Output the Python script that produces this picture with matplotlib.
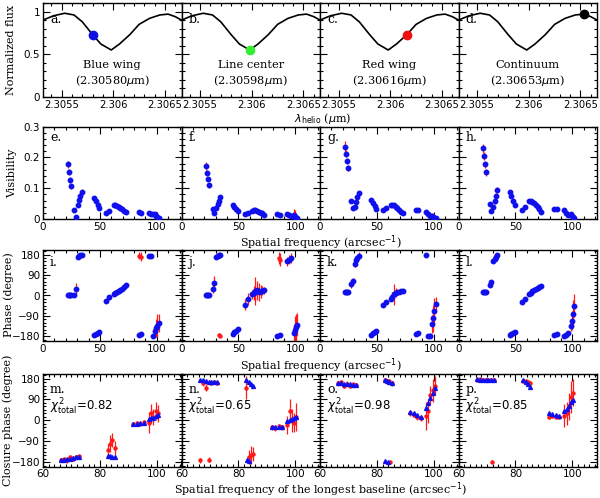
import numpy as np
import matplotlib
matplotlib.use('Agg')
import matplotlib.pyplot as plt
from matplotlib.ticker import MultipleLocator

# ---- spectrum (row 1) ----
wave = [2.30532, 2.30542, 2.30553, 2.30562, 2.30570, 2.30580, 2.30588, 2.30598,
        2.30606, 2.30616, 2.30625, 2.30635, 2.30645, 2.30653, 2.30660, 2.30666]
flux = [0.90, 0.95, 0.98, 0.96, 0.88, 0.73, 0.62, 0.55,
        0.62, 0.73, 0.85, 0.92, 0.96, 0.97, 0.94, 0.90]
sel_wave = [2.30580, 2.30598, 2.30616, 2.30653]
sel_flux = [0.73, 0.55, 0.73, 0.97]
sel_color = ['#1010e0', '#33ee33', '#ee1111', 'black']
sel_name = ['Blue wing', 'Line center', 'Red wing', 'Continuum']
sel_label = ['(2.30580$\\mu$m)', '(2.30598$\\mu$m)', '(2.30616$\\mu$m)', '(2.30653$\\mu$m)']

# ---- spatial frequencies shared by visibility / phase panels ----
sf = [21.8, 22.7, 23.6, 24.5, 27.5, 28.7, 30.5, 31.7, 32.9, 34.0,
      45.0, 46.5, 48.0, 49.5, 55.5, 58.0, 62.0, 63.5, 65.0, 66.5,
      68.0, 69.5, 71.0, 72.5, 84.0, 86.5, 93.0, 94.7, 96.3,
      98.5, 99.5, 100.5, 101.5]

vis_e = [0.178, 0.152, 0.128, 0.106, 0.028, 0.008, 0.045, 0.062, 0.076, 0.088,
         0.068, 0.057, 0.046, 0.036, 0.018, 0.027, 0.045, 0.044, 0.042, 0.040,
         0.037, 0.032, 0.027, 0.022, 0.022, 0.021, 0.020, 0.017, 0.015,
         0.016, 0.010, 0.006, 0.002]
vis_e_err = [0.012, 0.010, 0.010, 0.008, 0.006, 0.006, 0.006, 0.008, 0.010, 0.010,
             0.005, 0.005, 0.005, 0.005, 0.004, 0.004, 0.005, 0.005, 0.005, 0.005,
             0.004, 0.004, 0.004, 0.004, 0.003, 0.003, 0.003, 0.003, 0.003,
             0.006, 0.010, 0.010, 0.006]
vis_f = [0.172, 0.150, 0.130, 0.110, 0.033, 0.020, 0.035, 0.048, 0.060, 0.070,
         0.046, 0.040, 0.033, 0.027, 0.015, 0.018, 0.025, 0.028, 0.028, 0.026,
         0.024, 0.021, 0.018, 0.014, 0.015, 0.014, 0.015, 0.012, 0.010,
         0.012, 0.008, 0.004, 0.002]
vis_f_err = [0.012, 0.010, 0.008, 0.008, 0.005, 0.005, 0.006, 0.006, 0.008, 0.008,
             0.005, 0.005, 0.005, 0.005, 0.004, 0.004, 0.004, 0.004, 0.004, 0.004,
             0.004, 0.004, 0.004, 0.004, 0.003, 0.003, 0.004, 0.004, 0.004,
             0.020, 0.022, 0.015, 0.010]
vis_g = [0.235, 0.212, 0.188, 0.165, 0.060, 0.035, 0.040, 0.055, 0.070, 0.083,
         0.063, 0.052, 0.042, 0.032, 0.028, 0.035, 0.047, 0.046, 0.044, 0.040,
         0.036, 0.030, 0.024, 0.018, 0.030, 0.030, 0.024, 0.016, 0.010,
         0.010, 0.005, 0.003, 0.002]
vis_g_err = [0.020, 0.012, 0.010, 0.010, 0.006, 0.006, 0.006, 0.008, 0.008, 0.008,
             0.005, 0.005, 0.005, 0.005, 0.004, 0.004, 0.005, 0.005, 0.005, 0.005,
             0.004, 0.004, 0.004, 0.004, 0.004, 0.004, 0.004, 0.004, 0.004,
             0.008, 0.012, 0.012, 0.008]
vis_h = [0.230, 0.205, 0.178, 0.152, 0.050, 0.025, 0.040, 0.058, 0.076, 0.093,
         0.088, 0.074, 0.060, 0.047, 0.030, 0.040, 0.058, 0.058, 0.056, 0.052,
         0.046, 0.038, 0.031, 0.024, 0.033, 0.033, 0.028, 0.020, 0.014,
         0.015, 0.010, 0.006, 0.004]
vis_h_err = [0.015, 0.012, 0.012, 0.012, 0.006, 0.006, 0.006, 0.008, 0.010, 0.010,
             0.005, 0.005, 0.005, 0.005, 0.004, 0.004, 0.005, 0.005, 0.005, 0.005,
             0.004, 0.004, 0.004, 0.004, 0.003, 0.003, 0.003, 0.003, 0.003,
             0.006, 0.006, 0.006, 0.006]

ph_i = [3, 2, 1, 0, 0, 30, 168, 172, 176, 180,
        -175, -170, -166, -162, -25, -8, 8, 12, 16, 20,
        25, 30, 38, 45, -172, -168, 172, 175, -176,
        -155, -143, -132, -122]
ph_i_err = [5, 5, 5, 5, 5, 25, 8, 8, 8, 8, 6, 6, 6, 6, 10, 10, 8, 10, 12, 10,
            10, 10, 10, 8, 8, 8, 8, 8, 8, 20, 40, 50, 40]
ph_j = [3, 2, 1, 0, 30, 55, 170, 175, 178, 180,
        -168, -162, -155, -148, -40, -15, 5, 10, 20, 22,
        15, 18, 20, 22, -176, -174, 150, 158, 165,
        -165, -150, -140, -128]
ph_j_err = [5, 5, 5, 5, 20, 30, 8, 8, 8, 8, 8, 8, 8, 8, 25, 25, 20, 30, 60, 40,
            40, 30, 20, 15, 8, 8, 20, 20, 20, 40, 60, 60, 50]
ph_k = [14, 14, 14, 15, 50, 62, 140, 155, 165, 175,
        -172, -166, -160, -155, -42, -30, -15, -5, 5, 12,
        14, 16, 18, 20, -168, -166, 178, -178, -176,
        -125, -100, -70, -38]
ph_k_err = [5, 5, 5, 5, 15, 15, 15, 15, 15, 15, 6, 6, 6, 6, 8, 8, 10, 20, 45, 20,
            10, 10, 10, 8, 8, 8, 10, 10, 10, 40, 60, 60, 30]
ph_l = [14, 14, 15, 16, 45, 60, 150, 160, 170, 178,
        -172, -168, -164, -160, -30, -15, 5, 12, 18, 24,
        28, 32, 36, 40, -172, -170, -176, -172, -165,
        -135, -110, -80, -45]
ph_l_err = [4, 4, 4, 4, 8, 8, 6, 6, 6, 6, 5, 5, 5, 5, 6, 6, 6, 8, 12, 8,
            6, 6, 6, 6, 6, 6, 6, 6, 8, 20, 40, 60, 50]

# red points that wrap to the other side of +-180
ph_i_wrap_x, ph_i_wrap_y, ph_i_wrap_err = [84.0, 86.5], [175, 170], [15, 20]
ph_j_wrap_x, ph_j_wrap_y, ph_j_wrap_err = [32.9, 34.0, 85.5, 86.5], [-172, -176, 165, 158], [8, 8, 25, 30]

# ---- closure phases ----
cpx = [66.5, 67.5, 68.5, 69.5, 70.5, 71.5, 72.5, 82.8, 83.6, 84.4, 85.2,
       91.8, 93.0, 94.2, 95.4, 97.2, 98.0, 98.8, 99.6, 100.4]
cp_m_mod = [-172, -170, -168, -166, -163, -160, -157, -152, -154, -156, -158,
            -15, -14, -12, -10, 5, 8, 11, 18, 24]
cp_m_obs = [-170, -168, -172, -160, -165, -158, -155, -130, -100, -85, -120,
            -16, -12, -14, -8, -10, 30, 15, 40, 30]
cp_m_err = [8, 8, 10, 10, 10, 8, 6, 30, 35, 30, 30, 8, 8, 8, 8, 45, 40, 35, 40, 35]
cp_n_mod = [176, 172, 168, 166, 165, 165, 165, 174, 165, 155, 147,
            -28, -30, -30, -30, -2, 2, 6, 12, 16]
cp_n_obs = [-172, 160, 140, -170, 162, 165, 160, 140, -160, -150, -145,
            -30, -35, -25, -30, -20, 40, 0, -10, 15]
cp_n_err = [10, 10, 15, 10, 10, 8, 8, 50, 30, 40, 30, 12, 10, 10, 10, 40, 50, 50, 40, 60]
cp_o_mod = [163, 161, 159, 157, 155, 154, 153, 174, 170, 166, 163,
            37, 30, 22, 16, 55, 75, 95, 120, 138]
cp_o_obs = [160, 165, 150, 158, 150, 155, 152, 172, 168, 170, 160,
            30, 25, 15, 10, 20, 40, 110, 130, 150]
cp_o_err = [10, 8, 12, 10, 8, 8, 8, 10, 10, 10, 10, 12, 12, 12, 12, 60, 50, 40, 50, 40]
cp_p_mod = [177, 176, 176, 175, 175, 174, 174, 174, 165, 155, 142,
            33, 28, 24, 19, 40, 50, 62, 80, 88]
cp_p_obs = [176, 177, 175, 176, 175, 176, 175, 170, 168, 165, 160,
            15, 18, 16, 14, 20, 30, 60, 100, 120]
cp_p_err = [5, 5, 5, 5, 5, 5, 5, 10, 10, 10, 10, 10, 10, 10, 10, 50, 50, 60, 70, 60]
cp_n_wrap_x, cp_n_wrap_y = [83.0, 83.6], [-171, -176]
cp_o_wrap_x, cp_o_wrap_y = [83.0, 83.8], [-175, -178]
cp_obs_wrap_x = {'o.': [84.6], 'p.': [71.9]}
cp_obs_wrap_y = {'o.': [-180], 'p.': [-178]}
chi2 = ['0.82', '0.65', '0.98', '0.85']

# ---- layout (pixels) ----
W, H = 600, 498
col_left = [43, 181.5, 320, 458.5]
col_w = 138.5
rows = [(3, 97), (126.7, 219), (250, 341), (374, 466.7)]
serif = 'DejaVu Serif'
RED, BLUE = '#ff1a1a', '#1010ee'

fig = plt.figure(figsize=(6, 4.98), dpi=100)


def make_ax(c, r):
    top, bot = rows[r]
    ax = fig.add_axes([col_left[c] / W, 1 - bot / H, col_w / W, (bot - top) / H])
    ax.tick_params(which='both', direction='in', top=True, right=True,
                   labelsize=7.5, width=0.8, pad=2)
    ax.tick_params(which='major', length=5)
    ax.tick_params(which='minor', length=2.5)
    for s in ax.spines.values():
        s.set_linewidth(1.0)
    return ax


def obs_model(ax, x, y, err, ym=None, mk='o'):
    ax.errorbar(x, y, yerr=err, fmt='o', color=RED, ms=2.2,
                elinewidth=0.9, capsize=0, zorder=2)
    ax.plot(x, y if ym is None else ym, mk, color=BLUE,
            ms=3.2 if mk == 'o' else 2.8, zorder=3)


letters = 'abcdefghijklmnop'

# row 1
for c in range(4):
    ax = make_ax(c, 0)
    ax.plot(wave, flux, color='black', lw=1.2)
    ax.plot(sel_wave[c], sel_flux[c], 'o', color=sel_color[c], ms=6, zorder=3)
    ax.set_xlim(2.30532, 2.30666)
    ax.set_ylim(0, 1.1)
    ax.xaxis.set_minor_locator(MultipleLocator(0.0001))
    ax.yaxis.set_minor_locator(MultipleLocator(0.1))
    ax.set_xticks([2.3055, 2.306, 2.3065])
    ax.set_xticklabels(['2.3055', '2.306', '2.3065'], fontsize=7.2)
    ax.set_yticks([0, 0.5, 1])
    if c > 0:
        ax.set_yticklabels([])
    else:
        ax.set_yticklabels(['0', '0.5', '1'])
    ax.text(0.05, 0.79, letters[c] + '.', transform=ax.transAxes, fontsize=9, family=serif)
    ax.text(0.5, 0.345, sel_name[c], transform=ax.transAxes, ha='center', va='center',
            fontsize=8.2, family=serif)
    ax.text(0.5, 0.18, sel_label[c], transform=ax.transAxes, ha='center', va='center',
            fontsize=8.2, family=serif)

# row 2
vis_sets = [(vis_e, vis_e_err), (vis_f, vis_f_err), (vis_g, vis_g_err), (vis_h, vis_h_err)]
for c in range(4):
    ax = make_ax(c, 1)
    v, e = vis_sets[c]
    obs_model(ax, sf, v, e)
    ax.set_xlim(0, 121.7)
    ax.set_ylim(0, 0.3)
    ax.set_xticks([0, 50, 100])
    ax.xaxis.set_minor_locator(MultipleLocator(10))
    ax.set_yticks([0, 0.1, 0.2, 0.3])
    ax.yaxis.set_minor_locator(MultipleLocator(0.02))
    if c > 0:
        ax.set_yticklabels([])
    else:
        ax.set_yticklabels(['0', '0.1', '0.2', '0.3'])
    ax.text(0.05, 0.85, letters[4 + c] + '.', transform=ax.transAxes, fontsize=9, family=serif)

# row 3
ph_sets = [(ph_i, ph_i_err), (ph_j, ph_j_err), (ph_k, ph_k_err), (ph_l, ph_l_err)]
wraps = {0: (ph_i_wrap_x, ph_i_wrap_y, ph_i_wrap_err), 1: (ph_j_wrap_x, ph_j_wrap_y, ph_j_wrap_err)}
for c in range(4):
    ax = make_ax(c, 2)
    p, e = ph_sets[c]
    if c in wraps:
        wx, wy, we = wraps[c]
        ax.errorbar(wx, wy, yerr=we, fmt='o', color=RED, ms=2.2,
                    elinewidth=0.9, capsize=0, zorder=2)
    obs_model(ax, sf, p, e)
    ax.set_xlim(0, 121.7)
    ax.set_ylim(-200, 200)
    ax.set_xticks([0, 50, 100])
    ax.xaxis.set_minor_locator(MultipleLocator(10))
    ax.set_yticks([-180, -90, 0, 90, 180])
    ax.yaxis.set_minor_locator(MultipleLocator(15))
    if c > 0:
        ax.set_yticklabels([])
    else:
        ax.set_yticklabels(['\u2212180', '\u221290', '0', '90', '180'])
    ax.text(0.05, 0.82, letters[8 + c] + '.', transform=ax.transAxes, fontsize=9, family=serif)

# row 4
cp_sets = [(cp_m_obs, cp_m_err, cp_m_mod), (cp_n_obs, cp_n_err, cp_n_mod),
           (cp_o_obs, cp_o_err, cp_o_mod), (cp_p_obs, cp_p_err, cp_p_mod)]
cp_wraps = {1: (cp_n_wrap_x, cp_n_wrap_y), 2: (cp_o_wrap_x, cp_o_wrap_y)}
for c in range(4):
    ax = make_ax(c, 3)
    o, e, m = cp_sets[c]
    key = letters[12 + c] + '.'
    if key in cp_obs_wrap_x:
        ax.errorbar(cp_obs_wrap_x[key], cp_obs_wrap_y[key], yerr=5, fmt='o', color=RED,
                    ms=2.2, elinewidth=0.9, capsize=0, zorder=2)
    obs_model(ax, cpx, o, e, ym=m, mk='^')
    if c in cp_wraps:
        ax.plot(cp_wraps[c][0], cp_wraps[c][1], '^', color=BLUE, ms=2.8, zorder=3)
    ax.set_xlim(60, 108.7)
    ax.set_ylim(-200, 200)
    ax.set_xticks([60, 80, 100])
    ax.xaxis.set_minor_locator(MultipleLocator(2))
    ax.set_yticks([-180, -90, 0, 90, 180])
    ax.yaxis.set_minor_locator(MultipleLocator(15))
    if c > 0:
        ax.set_yticklabels([])
    else:
        ax.set_yticklabels(['\u2212180', '\u221290', '0', '90', '180'])
    ax.text(0.05, 0.80, key, transform=ax.transAxes, fontsize=9, family=serif)
    ax.text(0.05, 0.60, '$\\chi^2_{\\rm total}$=' + chi2[c], transform=ax.transAxes,
            fontsize=8.5)

# axis titles
fig.text(0.537, 1 - 118 / H, '$\\lambda_{\\rm helio}$ ($\\mu$m)', ha='center', va='center',
         fontsize=8, family=serif)
for yy in [242.5, 366]:
    fig.text(0.535, 1 - yy / H, 'Spatial frequency (arcsec$^{-1}$)', ha='center', va='center',
             fontsize=8, family=serif)
fig.text(0.535, 1 - 490 / H, 'Spatial frequency of the longest baseline (arcsec$^{-1}$)',
         ha='center', va='center', fontsize=8, family=serif)
fig.text(11 / W, 1 - 50 / H, 'Normalized flux', rotation=90, ha='center', va='center',
         fontsize=8, family=serif)
fig.text(12 / W, 1 - 173 / H, 'Visibility', rotation=90, ha='center', va='center',
         fontsize=8, family=serif)
fig.text(9 / W, 1 - 295 / H, 'Phase (degree)', rotation=90, ha='center', va='center',
         fontsize=8, family=serif)
fig.text(8 / W, 1 - 420 / H, 'Closure phase (degree)', rotation=90, ha='center', va='center',
         fontsize=8, family=serif)

fig.savefig('out.png', dpi=100)
